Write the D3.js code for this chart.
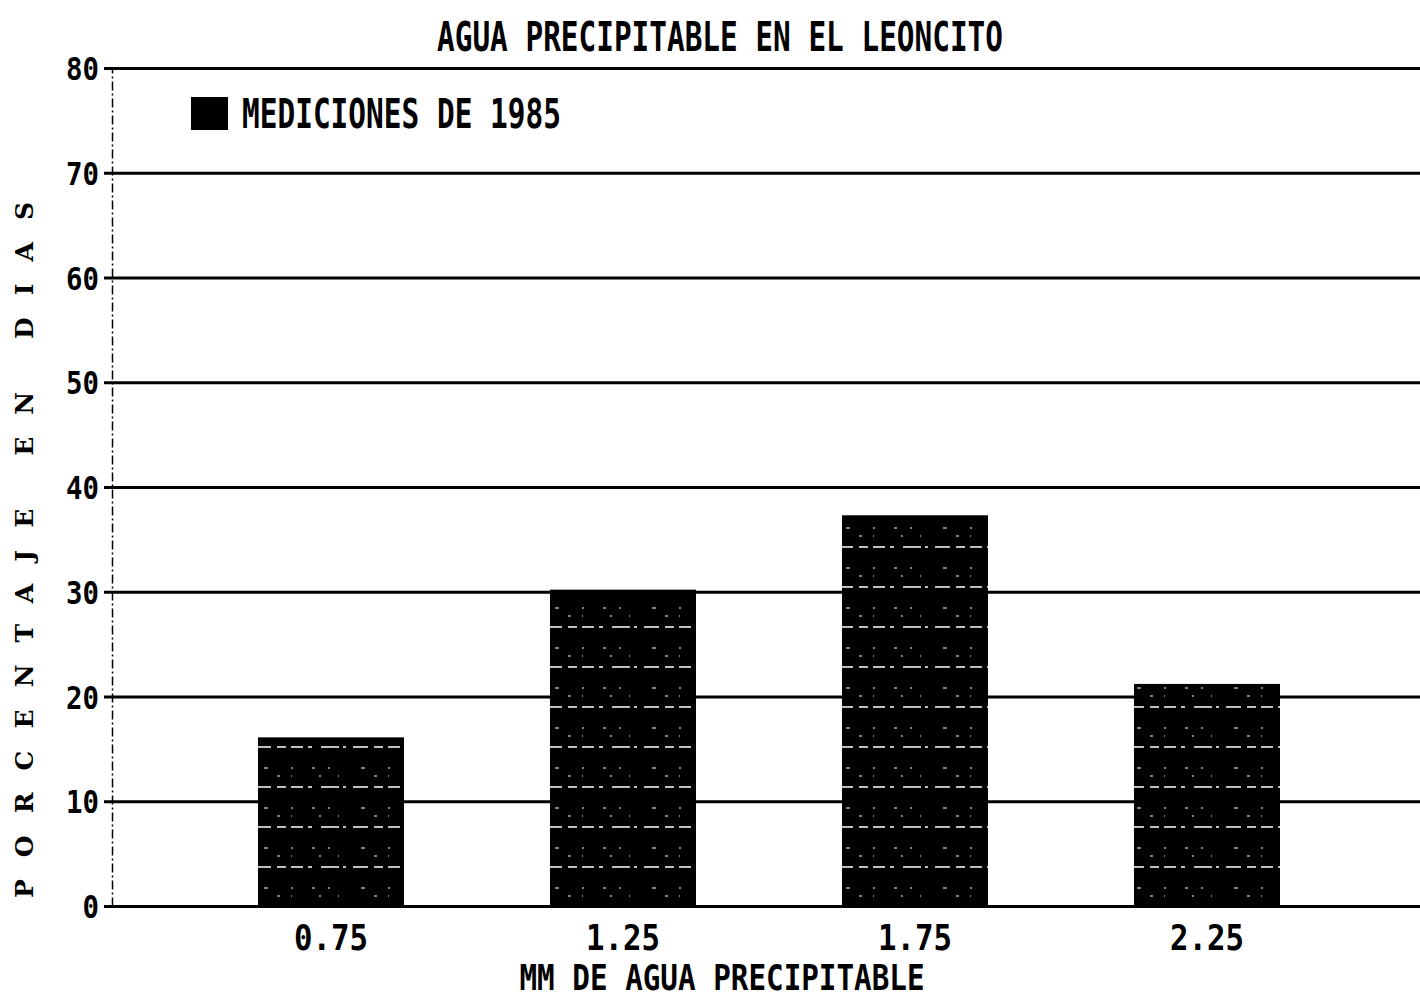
<!DOCTYPE html>
<html>
<head>
<meta charset="utf-8">
<script src="https://cdn.jsdelivr.net/npm/d3@7"></script>
<style>
  body { margin: 0; background: #fff; }
  svg { display: block; }
  .mono { font-family: "DejaVu Sans Mono", "Liberation Mono", monospace; font-weight: bold; fill: #000; }
</style>
</head>
<body>
<svg id="chart" width="1420" height="999"></svg>
<script>
"use strict";

// data
var categories = ["0.75", "1.25", "1.75", "2.25"];
var values = [16.1, 30.2, 37.3, 21.2];
var yTicks = [0, 10, 20, 30, 40, 50, 60, 70, 80];
var titleText = "AGUA PRECIPITABLE EN EL LEONCITO";
var legendText = "MEDICIONES DE 1985";
var xTitle = "MM DE AGUA PRECIPITABLE";
var yTitle = "PORCENTAJE EN DIAS";

var svg = d3.select("#chart");
var plotLeft = 112, plotRight = 1420, plotTop = 68, plotBottom = 906;

var x = d3.scaleBand().domain(categories).range([plotLeft, 1426])
    .paddingInner(0.5).paddingOuter(0.5);
var y = d3.scaleLinear().domain([0, 80]).range([plotBottom, plotTop]);

// speckled fill for the bars
var defs = svg.append("defs");
var pat = defs.append("pattern").attr("id", "tex")
    .attr("patternUnits", "userSpaceOnUse")
    .attr("width", 97).attr("height", 40);
pat.append("rect").attr("width", 97).attr("height", 40).attr("fill", "#000");
pat.append("line").attr("x1", 0).attr("x2", 97).attr("y1", 27).attr("y2", 27)
    .attr("stroke", "#fff").attr("stroke-width", 1.6)
    .attr("stroke-dasharray", "12 5 4 9 18 4 3 7 15 6 9 5");
pat.append("line").attr("x1", 0).attr("x2", 97).attr("y1", 8).attr("y2", 8)
    .attr("stroke", "#fff").attr("stroke-width", 1.2)
    .attr("stroke-dasharray", "2 19 3 13 2 31 4 23");
pat.append("line").attr("x1", 0).attr("x2", 97).attr("y1", 16).attr("y2", 16)
    .attr("stroke", "#fff").attr("stroke-width", 1)
    .attr("stroke-dasharray", "1 27 2 17 1 35 3 11");

// gridlines
var grid = svg.append("g").attr("class", "grid")
    .attr("transform", "translate(" + plotLeft + ",0)")
    .call(d3.axisRight(y).tickValues(yTicks).tickSize(plotRight - plotLeft).tickFormat(""));
grid.select(".domain").remove();
grid.selectAll("line").attr("stroke", "#000").attr("stroke-width", 3);

// bars
svg.append("g").selectAll("rect")
    .data(values)
    .join("rect")
    .attr("x", function (d, i) { return x(categories[i]); })
    .attr("width", x.bandwidth())
    .attr("y", function (d) { return y(d); })
    .attr("height", function (d) { return y(0) - y(d); })
    .attr("fill", "url(#tex)");

// y axis
var gY = svg.append("g")
    .attr("transform", "translate(" + plotLeft + ",0)")
    .call(d3.axisLeft(y).tickValues(yTicks).tickSize(8).tickPadding(5).tickSizeOuter(0));
gY.select(".domain").attr("stroke", "#000").attr("stroke-width", 1.5)
    .attr("stroke-dasharray", "9 3 2 3");
gY.selectAll(".tick line").attr("stroke", "#000").attr("stroke-width", 3);
gY.selectAll(".tick text")
    .attr("class", "mono")
    .style("font-size", "32px")
    .attr("dy", "0.36em")
    .attr("textLength", function (d) { return String(d).length * 16.5; })
    .attr("lengthAdjust", "spacingAndGlyphs");

// x axis
var gX = svg.append("g")
    .attr("transform", "translate(0," + plotBottom + ")")
    .call(d3.axisBottom(x).tickSize(0).tickPadding(19));
gX.select(".domain").remove();
gX.selectAll(".tick text")
    .attr("class", "mono")
    .style("font-size", "36px")
    .attr("y", 0).attr("dy", 0).attr("dy", "1.22em")
    .attr("textLength", function (d) { return d.length * 18.5; })
    .attr("lengthAdjust", "spacingAndGlyphs");

// title
svg.append("text").attr("class", "mono")
    .attr("x", 720).attr("y", 51)
    .attr("text-anchor", "middle")
    .style("font-size", "40px")
    .attr("textLength", 566).attr("lengthAdjust", "spacingAndGlyphs")
    .text(titleText);

// legend
svg.append("rect").attr("x", 191).attr("y", 97).attr("width", 37).attr("height", 33)
    .attr("fill", "#000");
svg.append("text").attr("class", "mono")
    .attr("x", 242).attr("y", 128)
    .style("font-size", "40px")
    .attr("textLength", 319).attr("lengthAdjust", "spacingAndGlyphs")
    .text(legendText);

// axis titles
svg.append("text").attr("class", "mono")
    .attr("x", 722).attr("y", 990)
    .attr("text-anchor", "middle")
    .style("font-size", "35px")
    .attr("textLength", 405).attr("lengthAdjust", "spacingAndGlyphs")
    .text(xTitle);

svg.append("text")
    .attr("transform", "translate(33,550) rotate(-90)")
    .attr("text-anchor", "middle")
    .style("font-family", "'DejaVu Serif', 'Liberation Serif', serif")
    .style("font-weight", "bold")
    .style("font-size", "25px")
    .attr("textLength", 696).attr("lengthAdjust", "spacing")
    .text(yTitle);
</script>
</body>
</html>
